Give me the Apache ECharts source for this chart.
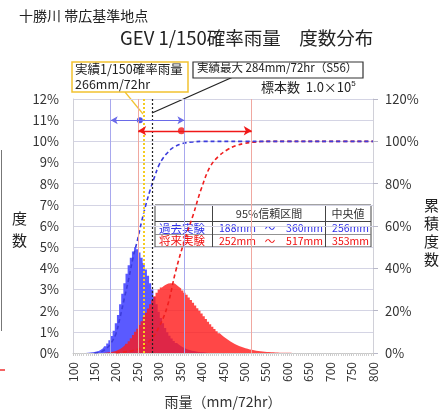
<!DOCTYPE html>
<html>
<head>
<meta charset="utf-8">
<script src="https://cdn.jsdelivr.net/npm/echarts@6/dist/echarts.min.js"></script>
<style>
html, body { margin: 0; padding: 0; background: #fff; }
#main { width: 440px; height: 414px; }
</style>
</head>
<body>
<div id="main"></div>
<script>
var myChart = echarts.init(document.getElementById('main'));
var FONT = '"Noto Sans CJK JP", "Noto Sans", sans-serif';

// histogram, 5mm bins, value = frequency in %
var binWidth = 5;
var pastStart = 130;
var pastHist = [0.005, 0.01, 0.02, 0.03, 0.05, 0.07, 0.1, 0.15, 0.22, 0.32, 0.45, 0.6, 0.8, 1.05, 1.4,
    1.8, 2.3, 2.8, 3.3, 3.75, 4.15, 4.5, 4.8, 5.0, 4.9, 4.75, 4.5, 4.25, 3.95, 3.65, 3.3, 3.0, 2.65,
    2.3, 1.95, 1.65, 1.4, 1.18, 0.98, 0.82, 0.68, 0.57, 0.47, 0.39, 0.32, 0.26, 0.21, 0.17, 0.14,
    0.11, 0.09, 0.07, 0.05, 0.04, 0.03, 0.02, 0.015, 0.01, 0.005];
var futureStart = 170;
var futureHist = [0.005, 0.01, 0.02, 0.03, 0.05, 0.07, 0.1, 0.14, 0.19, 0.26, 0.34, 0.44, 0.56, 0.7,
    0.85, 1.0, 1.15, 1.32, 1.5, 1.7, 1.9, 2.1, 2.3, 2.5, 2.68, 2.85, 3.0, 3.1, 3.18, 3.24, 3.28, 3.3,
    3.3, 3.28, 3.2, 3.12, 3.05, 2.95, 2.85, 2.75, 2.62, 2.5, 2.37, 2.24, 2.12, 2.0, 1.87, 1.74, 1.61,
    1.48, 1.36, 1.24, 1.13, 1.03, 0.93, 0.84, 0.76, 0.68, 0.61, 0.54, 0.48, 0.43, 0.38, 0.33, 0.29,
    0.26, 0.23, 0.2, 0.17, 0.15, 0.13, 0.11, 0.1, 0.08, 0.07, 0.06, 0.05, 0.045, 0.04, 0.03, 0.025,
    0.02, 0.017, 0.014, 0.012, 0.01, 0.008, 0.006, 0.005, 0.004, 0.003, 0.002];

// cumulative frequency in %
var pastCumX = [150, 160, 170, 180, 190, 200, 210, 220, 230, 240, 250, 260, 270, 280, 290, 300, 310,
    320, 330, 340, 350, 360, 380, 400, 500, 600, 700, 800];
var pastCum = [0, 0.3, 1, 2.5, 5, 9, 17, 26, 35, 45, 53, 62, 70, 77, 83, 88.5, 92, 94.5, 96.5, 97.8,
    98.6, 99.2, 99.7, 100, 100, 100, 100, 100];
var futureCumX = [200, 220, 240, 260, 280, 300, 320, 340, 360, 380, 400, 420, 440, 460, 480, 500,
    520, 540, 560, 600, 700, 800];
var futureCum = [0.2, 0.5, 1.2, 2.5, 6, 12, 22, 39, 53, 65, 78, 88, 93, 96, 98, 99, 99.6, 99.9, 100,
    100, 100, 100];

// 95% interval and median (mm/72hr)
var pastCI = [188, 360];
var pastMed = 256;
var futureCI = [252, 517];
var futureMed = 353;
var obs150 = 266;
var obsMax = 284;

var xTicks = {min: 100, max: 800, step: 50};
var leftTicks = {min: 0, max: 12, step: 1};
var rightTicks = {min: 0, max: 120, step: 20};

function pairs(xs, ys) {
    return ys.map(function (v, i) { return [xs[i], v]; });
}
function bins(start, ys) {
    return ys.map(function (v, i) { return [start + i * binWidth, v]; });
}

var blue = '#3c3cdc';
var red = '#f01e1e';

var option = {
    animation: false,
    textStyle: {fontFamily: FONT},
    grid: {left: 73, right: 67, top: 99, bottom: 59},
    xAxis: {
        type: 'value',
        min: xTicks.min, max: xTicks.max, interval: xTicks.step,
        name: '雨量（mm/72hr）',
        nameLocation: 'middle',
        nameGap: 42,
        nameTextStyle: {fontSize: 14, color: '#333', fontFamily: FONT},
        axisLine: {lineStyle: {color: '#c8c8c8'}},
        axisTick: {show: true, length: 3, lineStyle: {color: '#c8c8c8'}},
        minorTick: {show: true, splitNumber: 10, length: 3, lineStyle: {color: '#d0d0d0'}},
        splitLine: {show: false},
        axisLabel: {rotate: 90, fontSize: 12, color: '#333', margin: 9, fontFamily: FONT}
    },
    yAxis: [{
        type: 'value',
        min: leftTicks.min, max: leftTicks.max, interval: leftTicks.step,
        axisLine: {show: true, lineStyle: {color: '#d0d0d8'}},
        axisTick: {show: false},
        splitLine: {lineStyle: {color: '#d4d4e4'}},
        axisLabel: {formatter: '{value}%', fontSize: 13, color: '#333', margin: 14, fontFamily: FONT}
    }, {
        type: 'value',
        min: rightTicks.min, max: rightTicks.max, interval: rightTicks.step,
        position: 'right',
        axisLine: {show: true, lineStyle: {color: '#d0d0d8'}},
        axisTick: {show: true, length: 5, lineStyle: {color: '#b8b8c8'}},
        splitLine: {show: false},
        axisLabel: {formatter: '{value}%', fontSize: 13, color: '#333', margin: 12, fontFamily: FONT}
    }],
    series: [{
        name: '過去実験',
        type: 'line',
        step: 'middle',
        showSymbol: false,
        lineStyle: {width: 0},
        areaStyle: {color: '#5a5aff', opacity: 1},
        data: bins(pastStart, pastHist),
        markLine: {
            silent: true, symbol: 'none', label: {show: false},
            lineStyle: {color: '#a8a8ee', width: 1, type: 'solid'},
            data: [{xAxis: pastCI[0]}, {xAxis: pastCI[1]}]
        }
    }, {
        name: '将来実験',
        type: 'line',
        step: 'middle',
        showSymbol: false,
        lineStyle: {width: 0},
        areaStyle: {color: 'rgba(255,25,25,0.8)', opacity: 1},
        data: bins(futureStart, futureHist),
        markLine: {
            silent: true, symbol: 'none', label: {show: false},
            lineStyle: {color: '#f0a8a0', width: 1, type: 'solid'},
            data: [{xAxis: futureCI[0]}, {xAxis: futureCI[1]}]
        }
    }, {
        name: '将来累積',
        type: 'line',
        yAxisIndex: 1,
        smooth: 0.4,
        showSymbol: false,
        lineStyle: {color: red, width: 1.6, type: [4, 3]},
        data: pairs(futureCumX, futureCum),
        markLine: {
            silent: true, symbol: 'none', label: {show: false},
            data: [
                {xAxis: obs150, lineStyle: {color: '#f5cc20', width: 2, type: [2, 2]}},
                {xAxis: obsMax, lineStyle: {color: '#222', width: 1.2, type: [2, 2]}}
            ]
        }
    }, {
        name: '過去累積',
        type: 'line',
        yAxisIndex: 1,
        smooth: 0.4,
        showSymbol: false,
        lineStyle: {color: blue, width: 1.6, type: [4, 3]},
        data: pairs(pastCumX, pastCum)
    }, {
        name: '過去中央値',
        type: 'scatter',
        symbolSize: 6,
        itemStyle: {color: '#2828e0'},
        data: [[pastMed, 11]],
        markLine: {
            silent: true, symbol: ['arrow', 'arrow'], symbolSize: [6, 7], label: {show: false},
            lineStyle: {color: '#6a6ae8', width: 1, type: 'solid'},
            data: [[{coord: [pastCI[0], 11]}, {coord: [pastCI[1], 11]}]]
        }
    }, {
        name: '将来中央値',
        type: 'scatter',
        symbolSize: 7,
        itemStyle: {color: '#f01818'},
        data: [[futureMed, 10.5]],
        markLine: {
            silent: true, symbol: ['arrow', 'arrow'], symbolSize: [7, 8], label: {show: false},
            lineStyle: {color: '#f01818', width: 1.4, type: 'solid'},
            data: [[{coord: [futureCI[0], 10.5]}, {coord: [futureCI[1], 10.5]}]]
        }
    }],
    graphic: [
        {type: 'text', left: 19, top: 9, style: {text: '十勝川 帯広基準地点', fill: '#222', font: '14px ' + FONT}},
        {type: 'text', left: 120, top: 29, style: {text: 'GEV 1/150確率雨量　度数分布', fill: '#222', font: '18.5px ' + FONT}},
        // observed 1/150 box
        {type: 'line', shape: {x1: 125, y1: 92, x2: 143, y2: 114}, style: {stroke: '#f2c230', lineWidth: 1.2}},
        {type: 'rect', shape: {x: 72, y: 62, width: 116, height: 30}, style: {fill: '#fff', stroke: '#f2c230', lineWidth: 1.5}},
        {type: 'text', left: 75, top: 62, style: {text: '実績1/150確率雨量\n266mm/72hr', fill: '#222', font: '12.5px ' + FONT, lineHeight: 15}},
        // observed max box
        {type: 'line', shape: {x1: 233, y1: 77, x2: 152, y2: 113}, style: {stroke: '#222', lineWidth: 1.2}},
        {type: 'rect', shape: {x: 193, y: 62, width: 170, height: 16}, style: {fill: '#fff', stroke: '#333', lineWidth: 1.2}},
        {type: 'text', left: 197, top: 62, style: {text: '実績最大 284mm/72hr（S56）', fill: '#222', font: '11.5px ' + FONT}},
        {type: 'text', left: 261, top: 80, style: {
            text: '標本数  1.0×10{s|5}', fill: '#222', font: '13px ' + FONT,
            rich: {s: {fontSize: 8, verticalAlign: 'top', padding: [0, 0, 6, 0], fill: '#222'}}
        }},
        // axis names
        {type: 'text', left: 12, top: 207, style: {text: '度\n数', fill: '#222', font: '15px ' + FONT, lineHeight: 22}},
        {type: 'text', left: 424, top: 196, style: {text: '累\n積\n度\n数', fill: '#222', font: '15px ' + FONT, lineHeight: 18}},
        // table
        {type: 'group', z: 100, children: [
            {type: 'rect', shape: {x: 155, y: 205, width: 216, height: 42}, style: {fill: '#fff', stroke: '#444', lineWidth: 1}},
            {type: 'line', shape: {x1: 155, y1: 221.5, x2: 371, y2: 221.5}, style: {stroke: '#444', lineWidth: 1}},
            {type: 'line', shape: {x1: 155, y1: 234.5, x2: 371, y2: 234.5}, style: {stroke: '#777', lineWidth: 0.8}},
            {type: 'line', shape: {x1: 212.5, y1: 205, x2: 212.5, y2: 247}, style: {stroke: '#444', lineWidth: 1}},
            {type: 'line', shape: {x1: 325.5, y1: 205, x2: 325.5, y2: 247}, style: {stroke: '#444', lineWidth: 1}},
            {type: 'text', x: 269, y: 213.5, style: {text: '95%信頼区間', fill: '#333', font: '11px ' + FONT, align: 'center', verticalAlign: 'middle'}},
            {type: 'text', x: 348, y: 213.5, style: {text: '中央値', fill: '#333', font: '11px ' + FONT, align: 'center', verticalAlign: 'middle'}},
            {type: 'text', x: 159, y: 228.5, style: {text: '過去実験', fill: '#3030e8', font: '11.5px ' + FONT, verticalAlign: 'middle'}},
            {type: 'text', x: 159, y: 241, style: {text: '将来実験', fill: '#f01010', font: '11.5px ' + FONT, verticalAlign: 'middle'}},
            {type: 'text', x: 219, y: 228.5, style: {text: pastCI[0] + 'mm', fill: '#3030e8', font: '10.5px ' + FONT, verticalAlign: 'middle'}},
            {type: 'text', x: 270, y: 228.5, style: {text: '～', fill: '#3030e8', font: '10.5px ' + FONT, align: 'center', verticalAlign: 'middle'}},
            {type: 'text', x: 323, y: 228.5, style: {text: pastCI[1] + 'mm', fill: '#3030e8', font: '10.5px ' + FONT, align: 'right', verticalAlign: 'middle'}},
            {type: 'text', x: 369, y: 228.5, style: {text: pastMed + 'mm', fill: '#3030e8', font: '10.5px ' + FONT, align: 'right', verticalAlign: 'middle'}},
            {type: 'text', x: 219, y: 241, style: {text: futureCI[0] + 'mm', fill: '#f01010', font: '10.5px ' + FONT, verticalAlign: 'middle'}},
            {type: 'text', x: 270, y: 241, style: {text: '～', fill: '#f01010', font: '10.5px ' + FONT, align: 'center', verticalAlign: 'middle'}},
            {type: 'text', x: 323, y: 241, style: {text: futureCI[1] + 'mm', fill: '#f01010', font: '10.5px ' + FONT, align: 'right', verticalAlign: 'middle'}},
            {type: 'text', x: 369, y: 241, style: {text: futureMed + 'mm', fill: '#f01010', font: '10.5px ' + FONT, align: 'right', verticalAlign: 'middle'}}
        ]},
        // cropped edge of neighbouring slide
        {type: 'line', shape: {x1: 1.5, y1: 150, x2: 1.5, y2: 331}, style: {stroke: '#777', lineWidth: 1}},
        {type: 'line', shape: {x1: 0, y1: 370, x2: 5, y2: 370}, style: {stroke: '#f03030', lineWidth: 1.5}}
    ]
};

myChart.setOption(option);
</script>
</body>
</html>
